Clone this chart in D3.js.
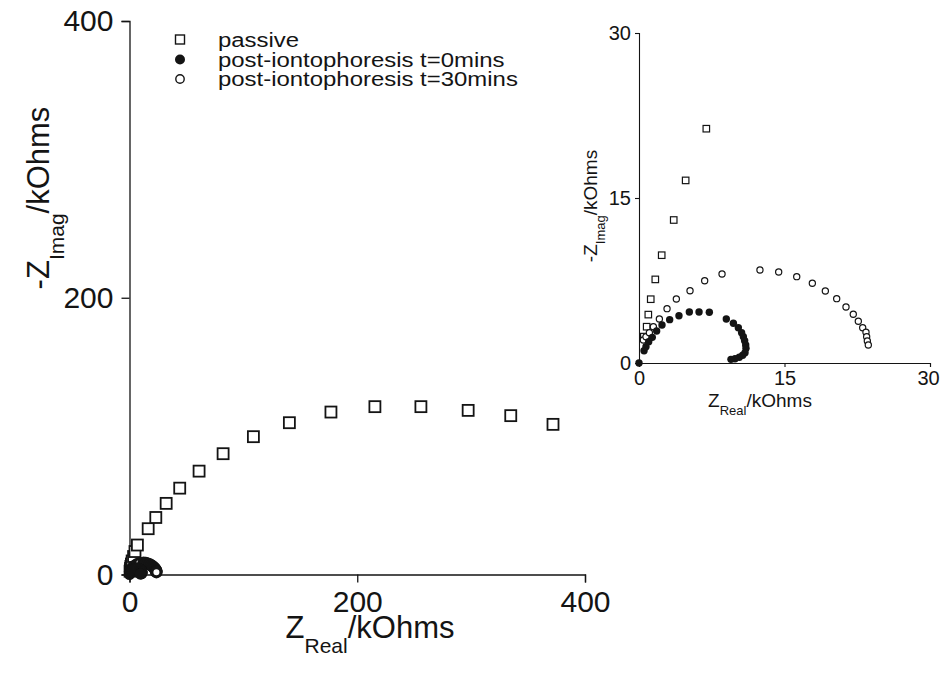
<!DOCTYPE html>
<html>
<head>
<meta charset="utf-8">
<script src="https://cdn.jsdelivr.net/npm/d3@7/dist/d3.min.js"></script>
<style>
  html, body { margin: 0; padding: 0; background: #fff; }
  svg { display: block; font-family: "Liberation Sans", Arial, Helvetica, sans-serif; }
</style>
</head>
<body>
<svg id="chart" width="940" height="674"></svg>
<script>
// ---------------- data (kOhms) ----------------
const seriesNames = ["passive", "post-iontophoresis t=0mins", "post-iontophoresis t=30mins"];

const passiveReal = [0.5, 0.79, 0.96, 1.21, 1.68, 2.34, 3.58, 4.81, 6.94, 16.4, 23.1, 32.2, 44.1, 61.1, 82.2, 108.8, 140.4, 176.9, 215.5, 255.9, 297.4, 334.8, 371.9];
const passiveImag = [2.4, 3.3, 4.4, 5.8, 7.6, 9.8, 13.0, 16.6, 21.3, 33.1, 41.2, 51.4, 62.4, 74.7, 87.3, 99.6, 109.7, 117.4, 121.3, 121.3, 118.6, 114.8, 108.5];

const t0Real = [0, 0.52, 0.72, 1.0, 1.37, 1.82, 2.37, 3.16, 4.12, 5.19, 6.19, 7.25, 9.0, 9.73, 10.24, 10.58, 10.76, 10.89, 11.0, 11.03, 10.93, 10.69, 10.34, 9.9, 9.48];
const t0Imag = [0, 1.12, 1.48, 1.94, 2.33, 2.91, 3.45, 3.94, 4.30, 4.64, 4.64, 4.61, 4.0, 3.61, 3.21, 2.76, 2.39, 2.03, 1.64, 1.33, 0.94, 0.70, 0.52, 0.39, 0.33];

const t30Real = [0.45, 0.72, 1.07, 1.48, 2.10, 2.89, 3.85, 5.26, 6.77, 8.56, 12.47, 14.40, 16.26, 17.87, 19.21, 20.38, 21.34, 22.09, 22.61, 23.06, 23.40, 23.47, 23.54, 23.64];
const t30Imag = [2.09, 2.39, 2.76, 3.30, 4.0, 4.94, 5.82, 6.57, 7.48, 8.09, 8.45, 8.27, 7.85, 7.25, 6.55, 5.85, 5.09, 4.43, 3.79, 3.21, 2.79, 2.39, 2.0, 1.64];

const mainTicks = [0, 200, 400];
const insetTicks = [0, 15, 30];

// ---------------- drawing ----------------
const svg = d3.select("#chart");
const ink = "#141414";

const zip = (xs, ys) => xs.map((x, i) => ({x, y: ys[i]}));
const passive = zip(passiveReal, passiveImag);
const t0 = zip(t0Real, t0Imag);
const t30 = zip(t30Real, t30Imag);

function drawPanel(opt) {
  const g = svg.append("g");
  const x = d3.scaleLinear().domain(opt.domain).range(opt.xRange);
  const y = d3.scaleLinear().domain(opt.domain).range(opt.yRange);

  const xAxis = g.append("g").attr("transform", `translate(0,${opt.yRange[0]})`)
    .call(d3.axisBottom(x).tickValues(opt.ticks).tickSize(opt.tick).tickPadding(opt.pad).tickFormat(d3.format("d")));
  const yAxis = g.append("g").attr("transform", `translate(${opt.xRange[0]},0)`)
    .call(d3.axisLeft(y).tickValues(opt.ticks).tickSize(opt.tick).tickPadding(opt.pad).tickFormat(d3.format("d")));
  [xAxis, yAxis].forEach(a => {
    a.selectAll("path, line").attr("stroke", ink).attr("stroke-width", opt.axisW);
    a.selectAll("text").attr("fill", ink).attr("font-size", opt.tickFont)
      .attr("font-family", "'Liberation Sans', Arial, sans-serif");
  });
  if (opt.lastDx) {
    xAxis.selectAll(".tick text").filter(d => d === opt.domain[1]).attr("dx", opt.lastDx);
  }

  // squares
  g.append("g").selectAll("rect").data(passive.filter(d => d.x <= opt.domain[1] && d.y <= opt.domain[1]))
    .join("rect")
    .attr("x", d => x(d.x) - opt.sq / 2).attr("y", d => y(d.y) - opt.sq / 2)
    .attr("width", opt.sq).attr("height", opt.sq)
    .attr("fill", "#fff").attr("stroke", ink).attr("stroke-width", opt.symW);
  // open circles
  g.append("g").selectAll("circle").data(t30)
    .join("circle")
    .attr("cx", d => x(d.x)).attr("cy", d => y(d.y)).attr("r", opt.r)
    .attr("fill", "#fff").attr("stroke", ink).attr("stroke-width", opt.openW);
  // filled circles
  g.append("g").selectAll("circle").data(t0)
    .join("circle")
    .attr("cx", d => x(d.x)).attr("cy", d => y(d.y)).attr("r", opt.r + opt.symW / 2)
    .attr("fill", ink);

  // x title
  const xt = g.append("text").attr("x", opt.xTitle[0]).attr("y", opt.xTitle[1])
    .attr("text-anchor", "middle").attr("font-size", opt.titleFont).attr("fill", ink);
  xt.append("tspan").text("Z");
  xt.append("tspan").attr("font-size", opt.subFont).attr("dy", opt.subDy).text("Real");
  xt.append("tspan").attr("dy", -opt.subDy).text("/kOhms");

  // y title
  const yt = g.append("text")
    .attr("transform", `translate(${opt.yTitle[0]},${opt.yTitle[1]}) rotate(-90)`)
    .attr("text-anchor", "middle").attr("font-size", opt.titleFont).attr("fill", ink);
  yt.append("tspan").text("-Z");
  yt.append("tspan").attr("font-size", opt.subFont).attr("dy", opt.subDy).text("Imag");
  yt.append("tspan").attr("dy", -opt.subDy).text("/kOhms");
}

// main panel
drawPanel({
  domain: [0, 400], ticks: mainTicks,
  xRange: [129.5, 585], yRange: [574.5, 21],
  tick: 8, pad: 8, axisW: 1.3, tickFont: 30,
  sq: 11, r: 4.6, symW: 1.8, openW: 3.2,
  titleFont: 31, subFont: 21, subDy: 15,
  xTitle: [370, 638], yTitle: [49, 198]
});

// inset panel
drawPanel({
  domain: [0, 30], ticks: insetTicks,
  xRange: [639, 930], yRange: [363, 33],
  tick: 4, pad: 4, axisW: 1.1, tickFont: 20,
  sq: 6.5, r: 3.1, symW: 1.2, openW: 1.2,
  titleFont: 19, subFont: 13, subDy: 8,
  xTitle: [760, 407], yTitle: [597, 206], lastDx: -2
});

// legend
const legend = svg.append("g").attr("font-size", 21).attr("fill", ink);
const rows = [39.5, 59.5, 79];
seriesNames.forEach((name, i) => {
  const cy = rows[i];
  if (i === 0) {
    legend.append("rect").attr("x", 175.5).attr("y", cy - 4.5).attr("width", 9).attr("height", 9)
      .attr("fill", "#fff").attr("stroke", ink).attr("stroke-width", 1.4);
  } else if (i === 1) {
    legend.append("circle").attr("cx", 180).attr("cy", cy).attr("r", 5).attr("fill", ink);
  } else {
    legend.append("circle").attr("cx", 180).attr("cy", cy).attr("r", 4.2)
      .attr("fill", "#fff").attr("stroke", ink).attr("stroke-width", 1.4);
  }
  legend.append("text").attr("transform", `translate(218,${cy + 7}) scale(1.14,1)`).text(name);
});
</script>
</body>
</html>
